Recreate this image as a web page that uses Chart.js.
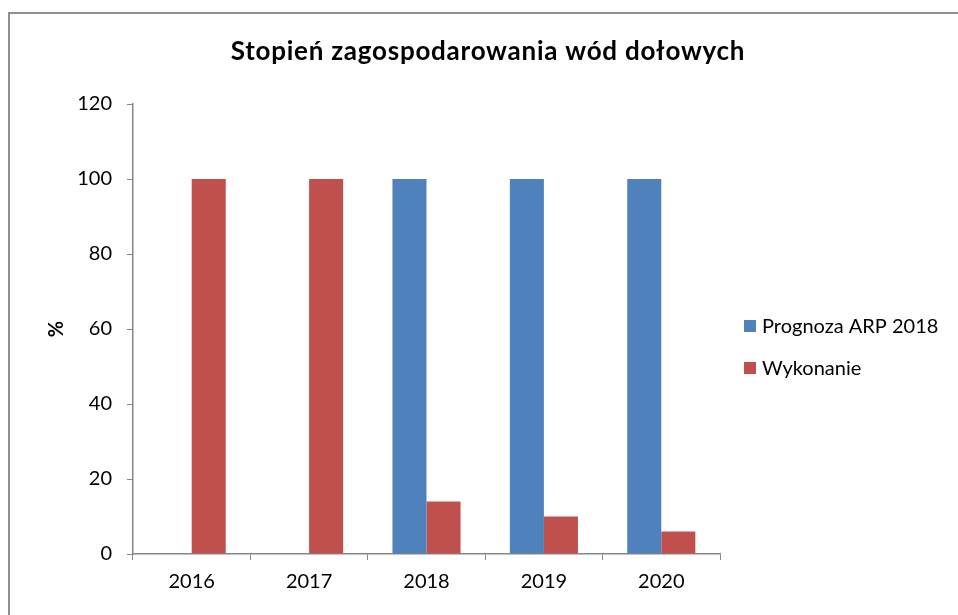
<!DOCTYPE html>
<html>
<head>
<meta charset="utf-8">
<script src="https://cdn.jsdelivr.net/npm/chart.js@4"></script>
<style>
  html, body { margin: 0; padding: 0; background: #fff; overflow: hidden; }
  #wrap { position: relative; width: 958px; height: 615px; }
  #frame { position: absolute; left: 8px; top: 12px; width: 1000px; height: 700px; border: 2px solid #8e8e8e; box-sizing: border-box; pointer-events: none; }
  canvas { position: absolute; left: 0; top: 0; }
</style>
</head>
<body>
<div id="wrap">
  <canvas id="c" width="958" height="615"></canvas>
  <div id="frame"></div>
</div>
<script>
const titleText = "Stopień zagospodarowania wód dołowych";
const yAxisTitle = "%";
const categories = ["2016", "2017", "2018", "2019", "2020"];
const seriesNames = ["Prognoza ARP 2018", "Wykonanie"];
const prognoza = [null, null, 100, 100, 100];
const wykonanie = [100, 100, 14, 10, 6];
const yTicks = [0, 20, 40, 60, 80, 100, 120];
const seriesColors = ["#4F81BD", "#C0504D"];

const FONT = "Lato, 'Open Sans', sans-serif";
const axisGray = "#868686";

const decorPlugin = {
  id: "decor",
  afterDraw(chart) {
    const ctx = chart.ctx;
    ctx.save();
    // title
    ctx.fillStyle = "#000";
    ctx.font = "bold 26px " + FONT;
    if ("letterSpacing" in ctx) ctx.letterSpacing = "0.75px";
    ctx.textAlign = "center";
    ctx.textBaseline = "middle";
    ctx.fillText(titleText, 488, 52);
    if ("letterSpacing" in ctx) ctx.letterSpacing = "0px";
    // legend
    ctx.font = "20px " + FONT;
    ctx.textAlign = "left";
    chart.data.datasets.forEach((ds, i) => {
      const cy = 326 + i * 42;
      ctx.fillStyle = ds.backgroundColor;
      ctx.fillRect(744, cy - 6, 12, 12);
      ctx.fillStyle = "#000";
      ctx.fillText(ds.label, 762, cy + 1);
    });
    ctx.restore();
  }
};

new Chart(document.getElementById("c"), {
  type: "bar",
  data: {
    labels: categories,
    datasets: [
      { label: seriesNames[0], data: prognoza, backgroundColor: seriesColors[0], borderWidth: 0 },
      { label: seriesNames[1], data: wykonanie, backgroundColor: seriesColors[1], borderWidth: 0 }
    ]
  },
  plugins: [decorPlugin],
  options: {
    responsive: false,
    animation: false,
    devicePixelRatio: 1,
    layout: { padding: { left: 10, right: 238, top: 104, bottom: 21 } },
    datasets: { bar: { categoryPercentage: 0.58, barPercentage: 1.0 } },
    plugins: {
      title: { display: false },
      legend: { display: false },
      tooltip: { enabled: false }
    },
    scales: {
      x: {
        afterFit: (s) => { s.height = 40; },
        grid: { display: true, drawOnChartArea: false, drawTicks: true, tickLength: 6, color: axisGray, offset: true },
        border: { display: true, color: axisGray, width: 1.5 },
        ticks: { color: "#000", font: { family: FONT, size: 20 }, padding: 10 }
      },
      y: {
        min: 0,
        max: 120,
        afterFit: (s) => { s.width = 123; },
        afterBuildTicks: (axis) => { axis.ticks = yTicks.map(v => ({ value: v })); },
        grid: { display: true, drawOnChartArea: false, drawTicks: true, tickLength: 6, color: axisGray },
        border: { display: true, color: axisGray, width: 1.5 },
        ticks: { color: "#000", font: { family: FONT, size: 20 }, padding: 15 },
        title: { display: true, text: yAxisTitle, color: "#000", font: { family: FONT, size: 20, weight: "bold" }, padding: { top: 35, bottom: 0 } }
      }
    }
  }
});
</script>
</body>
</html>
